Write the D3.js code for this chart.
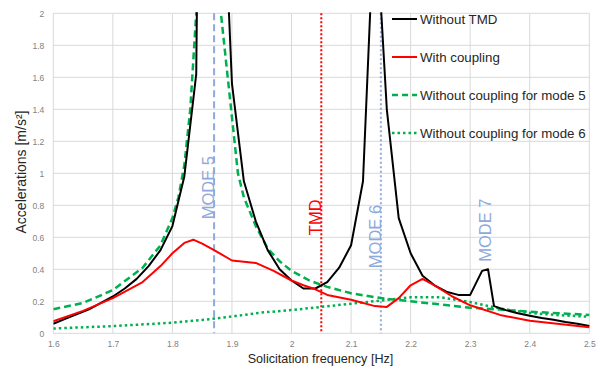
<!DOCTYPE html>
<html><head><meta charset="utf-8">
<script src="https://cdn.jsdelivr.net/npm/d3@7"></script>
<style>body{margin:0;background:#fff}svg{display:block}text{font-family:"Liberation Sans",Arial,sans-serif}</style>
</head><body><svg id="c" width="598" height="369"></svg>
<script>
// Data
const withoutTMD_f = [1.60,1.62,1.64,1.66,1.68,1.70,1.72,1.74,1.76,1.78,1.80,1.82,1.84,1.86,1.88,1.90,1.92,1.94,1.96,1.98,2.00,2.02,2.04,2.06,2.08,2.10,2.12,2.14,2.16,2.18,2.20,2.22,2.24,2.26,2.28,2.30,2.32,2.33,2.34,2.36,2.38,2.40,2.42,2.44,2.46,2.48,2.50];
const withoutTMD_a = [0.06,0.09,0.12,0.15,0.19,0.23,0.28,0.34,0.42,0.52,0.67,0.98,1.62,9.0,3.3,1.56,0.95,0.70,0.52,0.40,0.33,0.28,0.28,0.32,0.41,0.55,0.95,2.7,1.40,0.72,0.50,0.36,0.30,0.26,0.24,0.24,0.39,0.40,0.17,0.145,0.125,0.11,0.095,0.085,0.07,0.06,0.045];

const coupling_f = [1.60,1.65,1.70,1.75,1.78,1.80,1.82,1.835,1.85,1.87,1.90,1.94,1.97,2.00,2.02,2.04,2.06,2.10,2.14,2.16,2.18,2.20,2.22,2.24,2.27,2.30,2.35,2.40,2.45,2.50];
const coupling_a = [0.075,0.14,0.22,0.32,0.42,0.50,0.565,0.585,0.56,0.52,0.455,0.44,0.39,0.33,0.30,0.275,0.24,0.21,0.17,0.165,0.22,0.30,0.34,0.30,0.23,0.175,0.115,0.078,0.058,0.038];

const mode5_f = [1.60,1.65,1.70,1.75,1.78,1.80,1.81,1.82,1.83,1.84,1.85,1.86,1.87,1.88,1.89,1.90,1.91,1.92,1.94,1.96,1.98,2.00,2.03,2.06,2.10,2.15,2.20,2.25,2.30,2.35,2.40,2.45,2.50];
const mode5_a = [0.15,0.19,0.27,0.41,0.55,0.72,0.85,1.05,1.40,2.0,3.2,6.0,8.0,2.05,1.7,1.35,1.0,0.85,0.67,0.53,0.45,0.39,0.33,0.29,0.25,0.22,0.20,0.18,0.16,0.148,0.135,0.125,0.115];

const mode6_f = [1.60,1.70,1.80,1.85,1.90,1.95,2.00,2.05,2.10,2.15,2.20,2.25,2.30,2.35,2.40,2.45,2.50];
const mode6_a = [0.03,0.045,0.066,0.083,0.105,0.13,0.145,0.165,0.185,0.205,0.225,0.225,0.195,0.155,0.127,0.113,0.104];

const xTicks = [1.6,1.7,1.8,1.9,2.0,2.1,2.2,2.3,2.4,2.5];
const yTicks = [0,0.2,0.4,0.6,0.8,1,1.2,1.4,1.6,1.8,2];

const markerNames = ["MODE 5","TMD","MODE 6","MODE 7"];
const markerFreq = [1.87,2.05,2.15,null];
const labelFreq = [1.86,2.04,2.14,2.325];
const labelAcc = [0.91,0.725,0.605,0.645];

const seriesNames = ["Without TMD","With coupling","Without coupling for mode 5","Without coupling for mode 6"];

// Layout
const svg = d3.select("#c");
const L=53.3,R=589.3,T=13.3,B=333.3;
const x = d3.scaleLinear().domain([1.6,2.5]).range([L,R]);
const y = d3.scaleLinear().domain([0,2]).range([B,T]);
const blue="#8EA9DB", green="#00B050";

// grid
svg.append("g").selectAll("line").data(xTicks).join("line")
  .attr("x1",d=>x(d)).attr("x2",d=>x(d)).attr("y1",T).attr("y2",B)
  .attr("stroke","#d9d9d9").attr("stroke-width",1);
svg.append("g").selectAll("line").data(yTicks).join("line")
  .attr("x1",L).attr("x2",R).attr("y1",d=>y(d)).attr("y2",d=>y(d))
  .attr("stroke","#d9d9d9").attr("stroke-width",1);

// axes (labels only)
const xa = svg.append("g").attr("transform",`translate(0,${B})`)
  .call(d3.axisBottom(x).tickValues(xTicks).tickSize(0).tickPadding(8).tickFormat(d=>d3.format("")(+d.toFixed(1))));
const ya = svg.append("g").attr("transform",`translate(${L},0)`)
  .call(d3.axisLeft(y).tickValues(yTicks).tickSize(0).tickPadding(9).tickFormat(d=>String(+d.toFixed(1))));
[xa,ya].forEach(a=>{a.select(".domain").remove();a.selectAll("text").attr("fill","#7f7f7f").attr("font-size","8.5px").attr("font-family","Liberation Sans, Arial, sans-serif");});

// clip
svg.append("clipPath").attr("id","pc").append("rect").attr("x",L).attr("y",T-1).attr("width",R-L+2).attr("height",B-T+2);

// marker lines
const mStyles = [{c:blue,d:"7,4"},{c:"#ff0000",d:"2,2"},{c:blue,d:"2,2.5"}];
markerFreq.forEach((f,i)=>{ if(f==null) return;
  svg.append("line").attr("x1",x(f)).attr("x2",x(f)).attr("y1",T).attr("y2",B)
    .attr("stroke",mStyles[i].c).attr("stroke-width",2).attr("stroke-dasharray",mStyles[i].d);
});

const line = d3.line().x(d=>x(d[0])).y(d=>y(d[1]));
const zip=(a,b)=>a.map((v,i)=>[v,b[i]]);
const series = [
  {f:mode6_f,a:mode6_a,c:green,w:2.5,d:"2.5,3"},
  {f:mode5_f,a:mode5_a,c:green,w:2.5,d:"7,4"},
  {f:withoutTMD_f,a:withoutTMD_a,c:"#000",w:2,d:null},
  {f:coupling_f,a:coupling_a,c:"#ff0000",w:2,d:null}
];
const pg = svg.append("g").attr("clip-path","url(#pc)");
series.forEach(s=>{
  pg.append("path").datum(zip(s.f,s.a)).attr("d",line).attr("fill","none")
    .attr("stroke",s.c).attr("stroke-width",s.w).attr("stroke-linejoin","round")
    .attr("stroke-dasharray",s.d);
});

// marker labels
markerNames.forEach((n,i)=>{
  const cx=x(labelFreq[i]), cy=y(labelAcc[i]);
  svg.append("text").attr("transform",`translate(${cx},${cy}) rotate(-90)`)
    .attr("text-anchor","middle").attr("dominant-baseline","central")
    .attr("font-size","16.5px").attr("fill",n==="TMD"?"#ff0000":blue).text(n);
});

// legend
const legStyles=[{c:"#000",d:null,w:2},{c:"#ff0000",d:null,w:2},{c:green,d:"6,4",w:2.5},{c:green,d:"2.5,3",w:2.5}];
seriesNames.forEach((n,i)=>{
  const yy = 19 + i*38;
  svg.append("line").attr("x1",392).attr("x2",417).attr("y1",yy).attr("y2",yy)
    .attr("stroke",legStyles[i].c).attr("stroke-width",legStyles[i].w).attr("stroke-dasharray",legStyles[i].d);
  svg.append("text").attr("x",420).attr("y",yy).attr("dominant-baseline","central")
    .attr("font-size","13.3px").attr("fill","#262626").text(n);
});

// axis titles
svg.append("text").attr("transform",`translate(21,172) rotate(-90)`).attr("text-anchor","middle")
  .attr("dominant-baseline","central").attr("font-size","14px").attr("fill","#262626").text("Accelerations [m/s²]");
svg.append("text").attr("x",320.5).attr("y",359).attr("text-anchor","middle")
  .attr("dominant-baseline","central").attr("font-size","12.6px").attr("fill","#262626").text("Solicitation frequency [Hz]");
</script></body></html>
